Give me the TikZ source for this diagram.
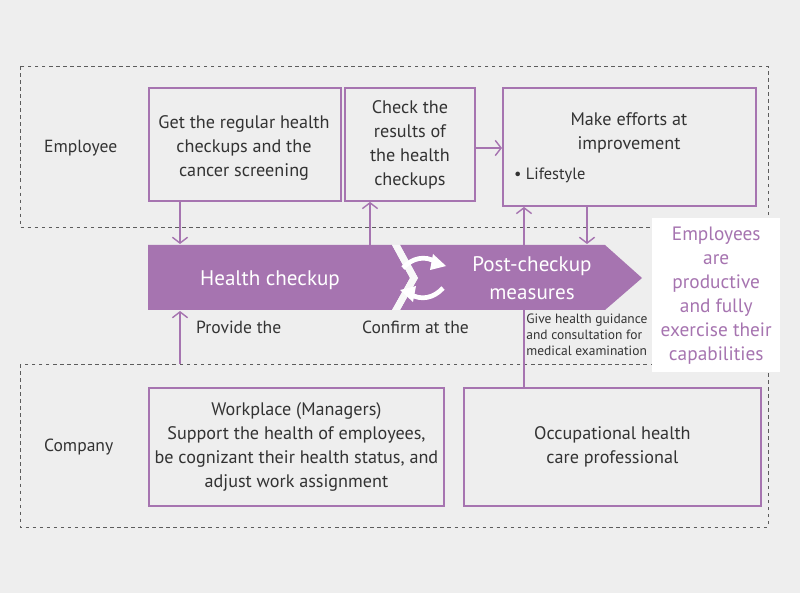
\documentclass[tikz,border=0pt]{standalone}
\usepackage{fontspec}
\setmainfont{PT Sans}
\usepackage{tikz}
\usetikzlibrary{arrows.meta,positioning,calc}
\definecolor{vio}{HTML}{A674B0}
\definecolor{txt}{HTML}{333333}
\definecolor{bg}{HTML}{EEEEEE}
\tikzset{
  box/.style={draw=vio,line width=1.6pt,text=txt,align=center,inner sep=2pt},
  zone/.style={draw=txt!80,dashed,line width=0.6pt},
  con/.style={draw=vio,line width=1.5pt,-{Straight Barb[length=5pt,width=13pt,line width=1.2pt]}},
  lab/.style={text=txt,font=\fontsize{15}{19}\selectfont,align=left,anchor=west},
  swap/.style={white,line width=4pt},
}
\begin{document}
\begin{tikzpicture}[x=0.03cm,y=-0.03cm,font=\fontsize{15.5}{20.5}\selectfont]
      \fill[bg] (0,0) rectangle (800,593);
      \useasboundingbox (0,0) rectangle (800,593);

      % zones
      \draw[zone] (20,66) rectangle (768,227);
      \draw[zone] (20,364) rectangle (768,527);
      \node[lab] (emp) at (40,148) {Employee};
      \node[lab] (com) at (40,447) {Company};

      % employee boxes
      \node[box,minimum width=192*0.03cm,minimum height=113*0.03cm,anchor=north west] (reg) at (148,87) {};
      \node[text=txt,align=center] (regt) at (244,148) {Get the regular health\\checkups and the\\cancer screening};
      \node[box,minimum width=130*0.03cm,minimum height=113*0.03cm,anchor=north west] (res) at (344,87)
        {Check the\\results of\\the health\\checkups};
      \node[box,minimum width=253*0.03cm,minimum height=118*0.03cm,anchor=north west] (imp) at (502,87) {};
      \node[text=txt,align=center] (impt) at (629,133) {Make efforts at\\improvement};
      \node[text=txt,anchor=west,font=\fontsize{14}{16}\selectfont] (life) at (510,175) {\textbullet\ Lifestyle};

      % company boxes
      \node[box,minimum width=295*0.03cm,minimum height=118*0.03cm,anchor=north west] (mgr) at (148,387)
        {Workplace (Managers)\\Support the health of employees,\\be cognizant their health status, and\\adjust work assignment};
      \node[box,minimum width=297*0.03cm,minimum height=118*0.03cm,anchor=north west] (occ) at (463,387)
        {Occupational health\\care professional};

      % connectors
      \coordinate (b1) at (180,244);
      \coordinate (b2) at (370,245);
      \coordinate (b3) at (587,244);
      \coordinate (c1) at (180,364);
      \coordinate (t1) at (180,311);
      \draw[con] (reg.south -| b1) -- (b1);
      \draw[con] (b2) -- (res.south -| b2);
      \draw[con] (occ.north -| 524,0) -- (imp.south -| 524,0);
      \draw[con] (imp.south -| b3) -- (b3);
      \draw[con] (c1) -- (t1);
      \draw[con] (res.east |- 0,148) -- (imp.west |- 0,148);

      % band
      \fill[vio] (148,245) -- (392,245) -- (410,278) -- (392,310) -- (148,310) -- cycle;
      \fill[vio] (400,245) -- (605,245) -- (642,278) -- (605,310) -- (400,310) -- (418,278) -- cycle;
      \fill[white!60!bg] (392,245) -- (400,245) -- (418,278) -- (400,310) -- (392,310) -- (410,278) -- cycle;
      \node[text=white,font=\fontsize{18}{20}\selectfont] (hc) at (270,280) {Health checkup};
      \node[text=white,align=center,font=\fontsize{18}{24}\selectfont] (pc) at (532,278) {Post-checkup\\measures};
      \draw[swap] (403,268) .. controls (412,258) and (425,255) .. (436,262);
      \fill[white] (433,254) -- (446,266) -- (430,270) -- cycle;
      \draw[swap] (443,288) .. controls (434,298) and (421,301) .. (410,294);
      \fill[white] (413,302) -- (400,290) -- (416,286) -- cycle;

      % result
      \node[fill=white,minimum width=128*0.03cm,minimum height=154*0.03cm,anchor=north west,inner sep=0pt] (out) at (652,218) {};
      \node[text=vio,align=center,font=\fontsize{16.5}{20.5}\selectfont] (outt) at (out.center)
        {Employees\\are\\productive\\and fully\\exercise their\\capabilities};

      % band labels
      \node[lab] (prov) at (192,327) {Provide the};
      \node[lab] (conf) at (358,327) {Confirm at the};
      \node[text=txt,align=left,anchor=north west,font=\fontsize{11.5}{13.5}\selectfont,inner sep=1pt] (give) at (525,313)
        {Give health guidance\\and consultation for\\medical examination};
\end{tikzpicture}
\end{document}
